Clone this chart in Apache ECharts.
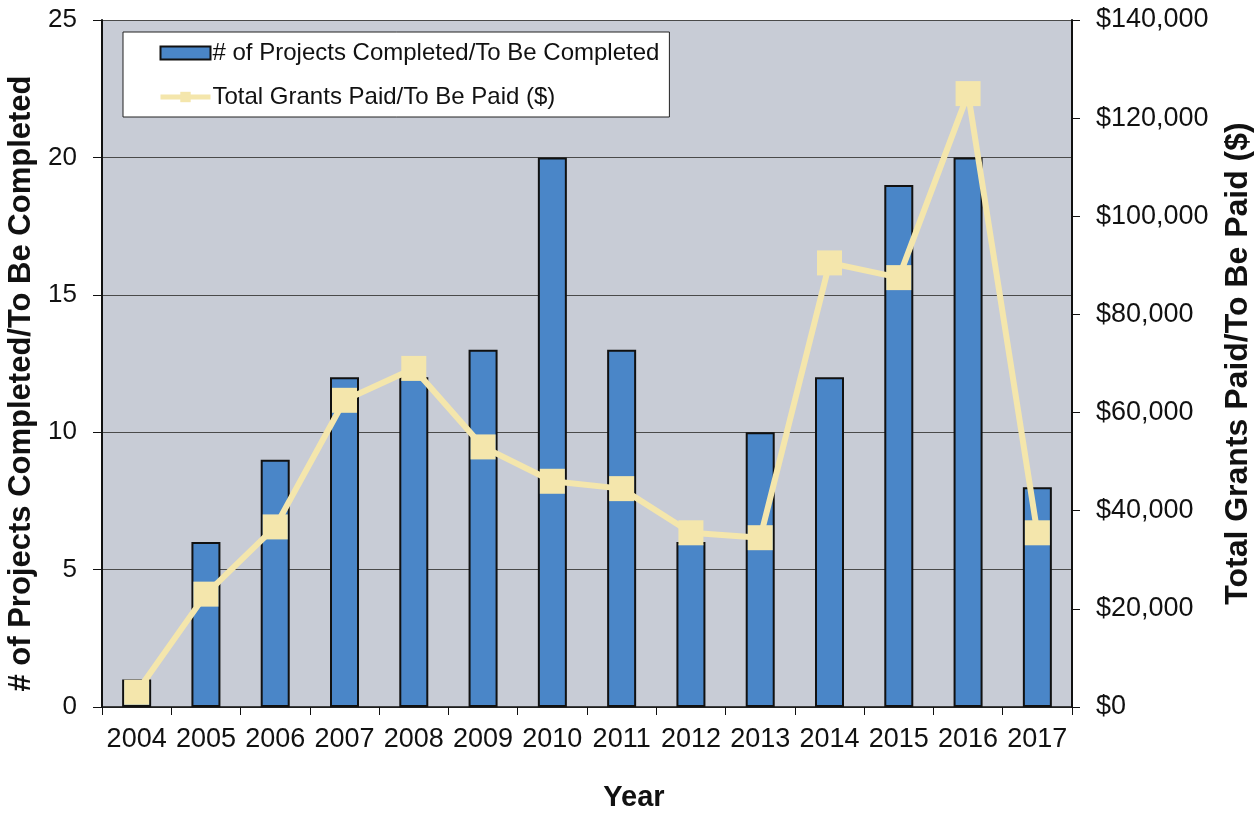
<!DOCTYPE html>
<html>
<head>
<meta charset="utf-8">
<script src="https://cdn.jsdelivr.net/npm/echarts@6/dist/echarts.min.js"></script>
<style>
  html, body { margin: 0; padding: 0; background: #ffffff; }
  #chart { width: 1256px; height: 839px; }
</style>
</head>
<body>
<div id="chart"></div>
<script>
// Project counts and grant totals per year
const years = ['2004', '2005', '2006', '2007', '2008', '2009', '2010', '2011', '2012', '2013', '2014', '2015', '2016', '2017'];
const projects = [1, 6, 9, 12, 12, 13, 20, 13, 6, 10, 12, 19, 20, 8];
const grants = [3000, 23000, 36700, 62500, 69000, 53000, 46000, 44500, 35500, 34500, 90500, 87500, 125000, 35500];

const FONT = '"Liberation Sans", Arial, sans-serif';

const chart = echarts.init(document.getElementById('chart'), null, { renderer: 'canvas' });

chart.setOption({
  animation: false,
  backgroundColor: '#ffffff',
  textStyle: { fontFamily: FONT, color: '#111' },
  grid: {
    left: 102, right: 184, top: 20, bottom: 132,
    containLabel: false,
    outerBoundsMode: 'none',
    show: true, backgroundColor: '#c8ccd6', borderWidth: 0
  },
  legend: {
    orient: 'vertical',
    left: 123, top: 32,
    padding: [8, 10, 7, 35],
    itemGap: 18,
    itemWidth: 50, itemHeight: 13,
    backgroundColor: '#ffffff',
    borderColor: '#222', borderWidth: 1,
    textStyle: { fontFamily: FONT, fontSize: 24, color: '#111', lineHeight: 26, padding: [0, 0, 0, -3] },
    data: [
      { name: '# of Projects Completed/To Be Completed', icon: 'rect' },
      { name: 'Total Grants Paid/To Be Paid ($)', lineStyle: { width: 5 } }
    ]
  },
  xAxis: {
    type: 'category',
    data: years,
    name: 'Year',
    nameLocation: 'middle',
    nameGap: 76,
    nameTextStyle: { fontFamily: FONT, fontSize: 29, fontWeight: 'bold', color: '#111', padding: [0, 0, 0, 94] },
    boundaryGap: true,
    axisLine: { lineStyle: { color: '#111', width: 1.5 } },
    axisTick: { show: true, length: 8, interval: 0, lineStyle: { color: '#111' } },
    axisLabel: { fontFamily: FONT, fontSize: 27, color: '#111', margin: 19, interval: 0 }
  },
  yAxis: [
    {
      type: 'value',
      min: 0, max: 25, interval: 5,
      name: '# of Projects Completed/To Be Completed',
      nameLocation: 'middle',
      nameGap: 57,
      nameRotate: 90,
      nameTextStyle: { fontFamily: FONT, fontSize: 31, fontWeight: 'bold', color: '#111', padding: [0, 40, 0, 0] },
      axisLine: { show: true, lineStyle: { color: '#111', width: 2 } },
      axisTick: { show: true, length: 9, lineStyle: { color: '#111' } },
      axisLabel: { fontFamily: FONT, fontSize: 26, color: '#111', margin: 25 },
      splitLine: { show: true, lineStyle: { color: '#4a4a4a', width: 1 } }
    },
    {
      type: 'value',
      min: 0, max: 140000, interval: 20000,
      position: 'right',
      name: 'Total Grants Paid/To Be Paid ($)',
      nameLocation: 'middle',
      nameGap: 150,
      nameRotate: 90,
      nameTextStyle: { fontFamily: FONT, fontSize: 32, fontWeight: 'bold', color: '#111' },
      axisLine: { show: true, lineStyle: { color: '#111', width: 2 } },
      axisTick: { show: true, length: 8, lineStyle: { color: '#111' } },
      axisLabel: {
        fontFamily: FONT, fontSize: 27, color: '#111', margin: 24,
        formatter: v => '$' + v.toLocaleString('en-US')
      },
      splitLine: { show: false }
    }
  ],
  series: [
    {
      name: '# of Projects Completed/To Be Completed',
      type: 'bar',
      yAxisIndex: 0,
      data: projects,
      barWidth: 29,
      itemStyle: { color: '#4a86c8', borderColor: '#111', borderWidth: 2 },
      z: 2
    },
    {
      name: 'Total Grants Paid/To Be Paid ($)',
      type: 'line',
      yAxisIndex: 1,
      data: grants,
      symbol: 'rect',
      symbolSize: 25,
      color: '#f4e6ac',
      lineStyle: { color: '#f4e6ac', width: 6 },
      itemStyle: { color: '#f4e6ac' },
      z: 3
    }
  ]
});
</script>
</body>
</html>
